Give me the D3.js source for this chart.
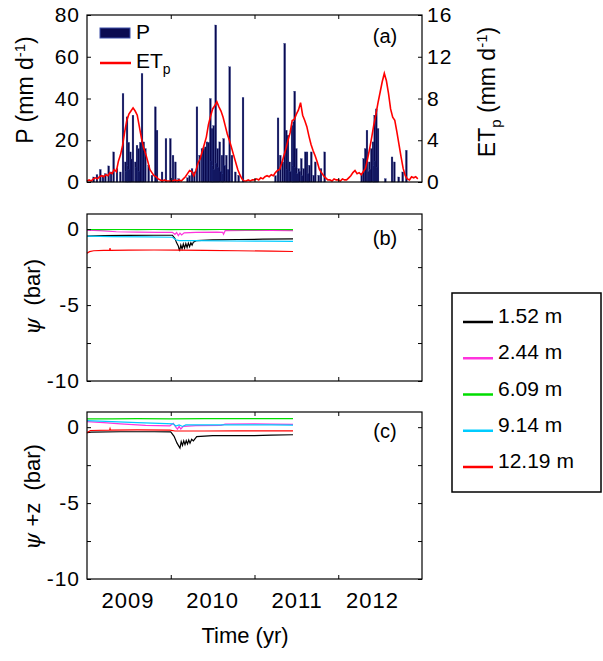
<!DOCTYPE html>
<html>
<head>
<meta charset="utf-8">
<script src="https://cdn.jsdelivr.net/npm/d3@7"></script>
<style>
  body { margin: 0; background: #fff; }
  text { font-family: "Liberation Sans", Arial, sans-serif; fill: #000; }
</style>
</head>
<body>
<script>
// ---- data ----

// daily rain, [decimal year, mm/d]
var precip = [
  [2009.080,2.4],[2009.119,3.5],[2009.159,6],[2009.191,3],[2009.219,4],[2009.259,7.7],[2009.287,4.8],
  [2009.318,14.4],[2009.358,6.4],[2009.398,4.8],[2009.430,42.4],[2009.458,9.6],[2009.468,5],[2009.478,31.2],
  [2009.488,8],[2009.498,19],[2009.508,6],[2009.518,14.4],[2009.528,11],[2009.549,32],[2009.577,9.6],
  [2009.587,7],[2009.597,17.6],[2009.617,16],[2009.627,5],[2009.637,19],[2009.657,52],[2009.677,19.2],
  [2009.697,16],[2009.736,8],[2009.776,3.2],[2009.816,36],[2009.836,24.8],[2009.896,4.8],[2009.943,20.8],
  [2009.995,20.8],[2010.027,12.8],[2010.055,9.6],[2010.095,1.6],[2010.200,2],[2010.225,3],[2010.254,6.4],
  [2010.282,4.8],[2010.313,36],[2010.345,12.8],[2010.373,16],[2010.393,16],[2010.413,16.8],[2010.433,19.2],
  [2010.453,19],[2010.473,40],[2010.483,10],[2010.493,25.6],[2010.503,8],[2010.513,27],[2010.523,6],
  [2010.537,75.2],[2010.548,9],[2010.561,16],[2010.573,7],[2010.585,19.2],[2010.598,5],[2010.612,12.8],
  [2010.622,4],[2010.632,20.8],[2010.645,8],[2010.664,12.8],[2010.685,6],[2010.704,55.2],[2010.731,12.8],
  [2010.771,4.8],[2010.811,3.2],[2010.863,40.5],[2011.250,3],[2011.281,30.7],[2011.308,12.8],[2011.337,9.6],
  [2011.361,66.4],[2011.380,24.8],[2011.390,6],[2011.400,22.4],[2011.420,9.6],[2011.430,5],[2011.448,27],
  [2011.458,8],[2011.468,28.8],[2011.480,43.5],[2011.490,7],[2011.499,16],[2011.510,4],[2011.528,6.4],
  [2011.540,5],[2011.559,11.2],[2011.570,3],[2011.587,6.4],[2011.607,14.4],[2011.627,14.4],[2011.640,4],
  [2011.655,8],[2011.678,14.4],[2011.707,3.2],[2011.726,9.6],[2011.767,3.2],[2011.794,6.4],[2011.838,14.4],
  [2012.280,4],[2012.304,11.2],[2012.323,16],[2012.343,24.8],[2012.360,5],[2012.371,9.6],[2012.385,6],
  [2012.395,16],[2012.415,19.2],[2012.425,8],[2012.435,32],[2012.445,10],[2012.454,35],[2012.465,7],
  [2012.475,25.6],[2012.562,1.6],[2012.642,12],[2012.670,9.6],[2012.722,2.4],[2012.770,4.8],[2012.813,15.2]
];

// potential ET, mm/d, one value every etpStep years from etpStart
var etpStart = 2009.0, etpStep = 0.025;
var etp = [
  0.1,0.2,0.1,0.3,0.4,0.3,0.5,0.6,0.5,0.7,0.6,0.9,0.8,1.2,1.0,2.0,2.6,3.5,4.8,5.9,
  6.5,6.8,7.1,6.8,6.4,5.3,4.2,3.3,2.7,2.0,1.2,0.9,0.6,0.5,0.3,0.2,0.1,0.2,0.1,0.1,
  0.1,0.1,0.2,0.1,0.2,0.1,0.3,0.5,0.8,1.1,1.0,0.6,1.1,1.8,2.2,2.9,3.6,4.3,5.5,6.3,
  7.0,7.3,7.7,7.2,6.8,6.2,5.4,4.6,4.0,3.3,2.6,1.9,1.2,0.7,0.3,0.1,0.1,0.2,0.1,0.2,
  0.2,0.3,0.2,0.4,0.3,0.5,0.6,0.5,0.7,0.6,0.9,1.1,1.2,1.8,2.5,3.2,4.0,4.7,5.9,6.0,
  6.5,6.9,7.6,6.4,5.9,5.3,4.4,3.6,3.0,2.5,1.9,1.2,0.9,0.6,0.4,0.2,0.2,0.1,0.3,0.2,
  0.2,0.1,0.3,0.2,0.2,0.4,0.6,0.9,1.1,0.8,0.9,0.7,1.0,1.3,2.2,3.2,4.3,5.5,6.5,7.6,
  8.6,9.6,10.4,9.7,8.5,7.0,6.2,5.9,4.8,3.6,2.4,1.3,0.6,0.3,0.2,0.5,0.4,0.5,0.3
];

// pressure head psi (bar) at each depth, [decimal year, bar]
var depthNames = ["1.52 m", "2.44 m", "6.09 m", "9.14 m", "12.19 m"];
var depthColors = ["#000000", "#ff33dd", "#00dd00", "#00ccff", "#ff0000"];

var psi152 = [[2009.00,-0.46],[2009.2,-0.43],[2009.5,-0.41],[2009.8,-0.40],[2010.02,-0.40],[2010.05,-0.62],
  [2010.07,-0.9],[2010.09,-1.1],[2010.105,-1.45],[2010.12,-1.05],[2010.135,-1.3],[2010.15,-0.98],[2010.165,-1.25],
  [2010.18,-0.95],[2010.195,-1.2],[2010.21,-0.92],[2010.225,-1.15],[2010.24,-0.9],[2010.255,-1.05],[2010.27,-0.85],
  [2010.31,-0.75],[2010.5,-0.71],[2010.8,-0.68],[2011.1,-0.66],[2011.46,-0.64]];
var psi244 = [[2009.0,-0.06],[2009.15,-0.1],[2009.35,-0.17],[2009.6,-0.2],[2009.85,-0.21],[2010.02,-0.21],[2010.05,-0.34],
  [2010.07,-0.22],[2010.09,-0.42],[2010.11,-0.26],[2010.13,-0.38],[2010.16,-0.24],[2010.3,-0.21],[2010.55,-0.2],
  [2010.62,-0.21],[2010.63,-0.34],[2010.65,-0.1],[2010.9,-0.08],[2011.2,-0.08],[2011.46,-0.09]];
var psi609 = [[2009.0,-0.02],[2009.2,-0.03],[2009.4,-0.02],[2009.6,-0.03],[2009.8,-0.02],[2010.0,-0.03],
  [2010.2,-0.02],[2010.4,-0.03],[2010.6,-0.02],[2010.8,-0.03],[2011.0,-0.03],[2011.2,-0.02],[2011.46,-0.03]];
var psi914 = [[2009.0,-0.46],[2009.3,-0.49],[2009.7,-0.51],[2010.02,-0.53],[2010.06,-0.7],[2010.1,-0.75],
  [2010.3,-0.76],[2010.7,-0.78],[2011.1,-0.79],[2011.46,-0.8]];
var psi1219 = [[2009.0,-1.58],[2009.03,-1.48],[2009.08,-1.42],[2009.2,-1.4],[2009.27,-1.39],[2009.275,-1.25],
  [2009.28,-1.39],[2009.5,-1.38],[2009.8,-1.37],[2010.1,-1.38],[2010.4,-1.4],[2010.8,-1.42],[2011.2,-1.45],[2011.46,-1.47]];

// total head psi+z (bar)
var head152 = [[2009.0,-0.36],[2009.05,-0.32],[2009.4,-0.3],[2009.8,-0.3],[2010.0,-0.31],[2010.04,-0.6],
  [2010.075,-1.05],[2010.11,-1.38],[2010.125,-0.95],[2010.14,-1.2],[2010.155,-0.9],[2010.17,-1.15],[2010.185,-0.88],
  [2010.2,-1.1],[2010.215,-0.85],[2010.23,-1.05],[2010.25,-0.8],[2010.27,-0.9],[2010.31,-0.62],[2010.5,-0.56],
  [2010.8,-0.55],[2011.0,-0.56],[2011.2,-0.52],[2011.46,-0.5]];
var head244 = [[2009.0,0.37],[2009.2,0.3],[2009.4,0.22],[2009.7,0.12],[2009.99,0.09],[2010.03,0.25],[2010.06,0.0],
  [2010.08,-0.13],[2010.1,0.05],[2010.12,-0.12],[2010.15,0.05],[2010.3,0.1],[2010.6,0.12],[2010.65,0.2],
  [2011.0,0.22],[2011.2,0.2],[2011.46,0.18]];
var head609 = [[2009.0,0.55],[2009.3,0.55],[2009.6,0.56],[2010.0,0.55],[2010.4,0.56],[2010.8,0.56],[2011.2,0.57],[2011.46,0.57]];
var head914 = [[2009.0,0.43],[2009.3,0.36],[2009.6,0.3],[2009.95,0.24],[2010.03,0.22],[2010.06,0.08],[2010.1,0.15],
  [2010.14,0.05],[2010.18,0.15],[2010.5,0.15],[2010.9,0.15],[2011.2,0.15],[2011.46,0.14]];
var head1219 = [[2009.0,-0.36],[2009.04,-0.22],[2009.27,-0.2],[2009.275,-0.1],[2009.28,-0.2],[2009.6,-0.18],
  [2009.99,-0.2],[2010.05,-0.25],[2010.4,-0.25],[2010.8,-0.24],[2011.2,-0.24],[2011.46,-0.24]];

var yearTicks = [2010, 2011, 2012];
var yearLabels = ["2009", "2010", "2011", "2012"];
var yearLabelAt = [2009.49, 2010.5, 2011.51, 2012.41];
var pTicks = [0, 20, 40, 60, 80];
var etTicks = [0, 4, 8, 12, 16];
var psiTicks = [-10, -7.5, -5, -2.5, 0];

// ---- layout ----
var W = 603, H = 661;
var left = 87, right = 422;
var panels = { a: [15, 182], b: [214, 381], c: [412, 579] };

var svg = d3.select("body").append("svg")
  .attr("width", W).attr("height", H)
  .style("background", "#fff");

var x = d3.scaleLinear().domain([2009, 2013]).range([left, right]);
var yP = d3.scaleLinear().domain([0, 80]).range([panels.a[1], panels.a[0]]);
var yE = d3.scaleLinear().domain([0, 16]).range([panels.a[1], panels.a[0]]);
var yB = d3.scaleLinear().domain([-10, 1]).range([panels.b[1], panels.b[0]]);
var yC = d3.scaleLinear().domain([-10, 1]).range([panels.c[1], panels.c[0]]);

var tickFont = "21px";

// axes frame + inward ticks, MATLAB style
function frame(top, bottom, yLeft, leftTicks, leftFmt, yRight, rightTicks, rightFmt) {
  var g = svg.append("g");
  g.append("g").attr("transform", "translate(" + left + ",0)")
    .call(d3.axisLeft(yLeft).tickValues(leftTicks).tickFormat(leftFmt).tickSizeInner(-4).tickSizeOuter(0).tickPadding(7));
  g.append("g").attr("transform", "translate(" + right + ",0)")
    .call(d3.axisRight(yRight).tickValues(rightTicks).tickFormat(rightFmt).tickSizeInner(-4).tickSizeOuter(0).tickPadding(5));
  g.append("g").attr("transform", "translate(0," + bottom + ")")
    .call(d3.axisBottom(x).tickValues(yearTicks).tickFormat("").tickSizeInner(-4).tickSizeOuter(0));
  g.append("g").attr("transform", "translate(0," + top + ")")
    .call(d3.axisTop(x).tickValues(yearTicks).tickFormat("").tickSizeInner(-4).tickSizeOuter(0));
  g.selectAll(".domain").remove();
  g.selectAll(".tick line").attr("stroke", "#000").attr("stroke-width", 1);
  g.selectAll(".tick text").style("font-size", tickFont).attr("fill", "#000")
    .style("font-family", "Liberation Sans, Arial, sans-serif").style("letter-spacing", "1px");
  g.append("rect").attr("x", left).attr("y", top)
    .attr("width", right - left).attr("height", bottom - top)
    .attr("fill", "none").attr("stroke", "#000").attr("stroke-width", 1.2);
  return g;
}

function psiFmt(d) { return d % 5 === 0 ? String(d) : ""; }

// ---- panel (a) ----
svg.append("g").selectAll("rect").data(precip).enter().append("rect")
  .attr("x", function(d) { return x(d[0]) - 0.9; })
  .attr("y", function(d) { return yP(d[1]); })
  .attr("width", 1.8)
  .attr("height", function(d) { return yP(0) - yP(d[1]); })
  .attr("fill", "#0a0a50")
  .attr("stroke", "#2a3a8c").attr("stroke-width", 0.3);

var etLine = d3.line()
  .x(function(d, i) { return x(etpStart + i * etpStep); })
  .y(function(d) { return yE(d); });
svg.append("path").datum(etp).attr("d", etLine)
  .attr("fill", "none").attr("stroke", "#ff0000").attr("stroke-width", 1.6);

frame(panels.a[0], panels.a[1], yP, pTicks, function(d) { return String(d); }, yE, etTicks, function(d) { return String(d); });

// legend inside (a)
svg.append("rect").attr("x", 100).attr("y", 28).attr("width", 30).attr("height", 10)
  .attr("fill", "#0a0a50").attr("stroke", "#3d4fa8").attr("stroke-width", 1);
svg.append("text").attr("x", 136).attr("y", 39).style("font-size", "21px").text("P");
svg.append("line").attr("x1", 100).attr("x2", 131).attr("y1", 63).attr("y2", 63)
  .attr("stroke", "#ff0000").attr("stroke-width", 2.5);
var etLab = svg.append("text").attr("x", 136).attr("y", 68).style("font-size", "21px");
etLab.append("tspan").text("ET");
etLab.append("tspan").attr("dy", 6).style("font-size", "14px").text("p");

// ---- panels (b) and (c) ----
var psiSeries = [psi152, psi244, psi609, psi914, psi1219];
var headSeries = [head152, head244, head609, head914, head1219];

function drawLines(series, yScale) {
  var line = d3.line().x(function(d) { return x(d[0]); }).y(function(d) { return yScale(d[1]); });
  svg.append("g").selectAll("path").data(series).enter().append("path")
    .attr("d", line)
    .attr("fill", "none")
    .attr("stroke", function(d, i) { return depthColors[i]; })
    .attr("stroke-width", 1.2);
}

drawLines(psiSeries, yB);
frame(panels.b[0], panels.b[1], yB, psiTicks, psiFmt, yB, psiTicks, "");
drawLines(headSeries, yC);
frame(panels.c[0], panels.c[1], yC, psiTicks, psiFmt, yC, psiTicks, "");

// panel tags
[["(a)", 43], ["(b)", 245], ["(c)", 438]].forEach(function(p) {
  svg.append("text").attr("x", 385).attr("y", p[1]).attr("text-anchor", "middle")
    .style("font-size", "20px").text(p[0]);
});

// year labels under (c)
svg.append("g").selectAll("text").data(yearLabels).enter().append("text")
  .attr("x", function(d, i) { return x(yearLabelAt[i]); })
  .attr("y", 608)
  .attr("text-anchor", "middle")
  .style("font-size", "22px")
  .style("letter-spacing", "1px")
  .text(function(d) { return d; });

svg.append("text").attr("x", 245).attr("y", 643).attr("text-anchor", "middle")
  .style("font-size", "22px").text("Time (yr)");

// y labels
var pLab = svg.append("text").attr("transform", "translate(33,90) rotate(-90)")
  .attr("text-anchor", "middle").style("font-size", "23px");
pLab.append("tspan").text("P (mm d");
pLab.append("tspan").attr("dy", -8).style("font-size", "15px").text("-1");
pLab.append("tspan").attr("dy", 8).text(")");

var eLab = svg.append("text").attr("transform", "translate(495,92) rotate(-90)")
  .attr("text-anchor", "middle").style("font-size", "23px");
eLab.append("tspan").text("ET");
eLab.append("tspan").attr("dy", 6).style("font-size", "15px").text("p");
eLab.append("tspan").attr("dy", -6).text(" (mm d");
eLab.append("tspan").attr("dy", -8).style("font-size", "15px").text("-1");
eLab.append("tspan").attr("dy", 8).text(")");

function psiLabel(cx, cy, rest) {
  var t = svg.append("text").attr("transform", "translate(" + cx + "," + cy + ") rotate(-90)")
    .attr("text-anchor", "middle").style("font-size", "22px").attr("xml:space", "preserve");
  t.append("tspan").style("font-family", "DejaVu Serif, serif").style("font-style", "italic").text("\u03C8");
  t.append("tspan").text(rest);
}
psiLabel(40, 297, "  (bar)");
psiLabel(40, 497, " +z  (bar)");

// depth legend box
var lg = svg.append("g");
lg.append("rect").attr("x", 452).attr("y", 293).attr("width", 149).attr("height", 199)
  .attr("fill", "#fff").attr("stroke", "#000").attr("stroke-width", 1.5);
var rowY = d3.scalePoint().domain(depthNames).range([322, 467]);
var rows = lg.selectAll("g.row").data(depthNames).enter().append("g");
rows.append("line")
  .attr("x1", 463).attr("x2", 493)
  .attr("y1", function(d) { return rowY(d); }).attr("y2", function(d) { return rowY(d); })
  .attr("stroke", function(d, i) { return depthColors[i]; })
  .attr("stroke-width", 2.5);
rows.append("text")
  .attr("x", 498).attr("y", function(d) { return rowY(d) + 1; })
  .style("font-size", "21px")
  .text(function(d) { return d; });
</script>
</body>
</html>
